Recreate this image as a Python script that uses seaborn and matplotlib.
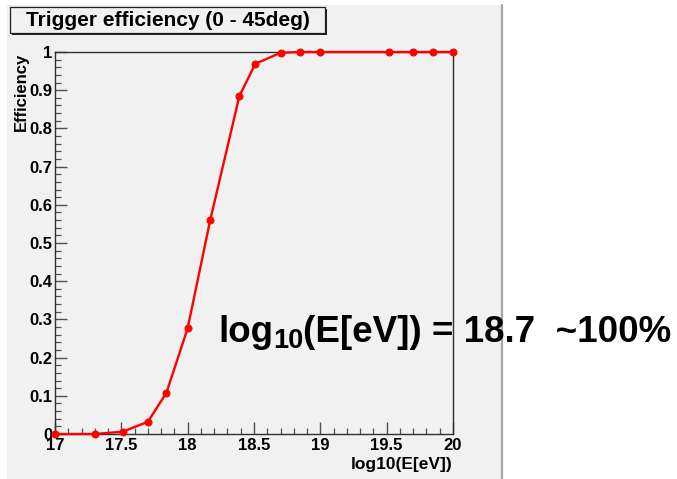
import matplotlib
matplotlib.use("Agg")
import matplotlib.pyplot as plt
from matplotlib.patches import Rectangle
from matplotlib.lines import Line2D
from matplotlib.ticker import MultipleLocator
import numpy as np
import pandas as pd
import seaborn as sns

# Trigger efficiency versus log10 of the primary energy
log_energy = [17.0, 17.3, 17.51, 17.7, 17.84, 18.0, 18.17, 18.39, 18.51,
              18.7, 18.85, 19.0, 19.52, 19.7, 19.85, 20.0]
efficiency = [0.0, 0.0, 0.006, 0.032, 0.108, 0.277, 0.560, 0.885, 0.969,
              0.998, 1.0, 1.0, 1.0, 1.0, 1.0, 1.0]

title_text = "Trigger efficiency (0 - 45deg)"
x_label = "log10(E[eV])"
y_label = "Efficiency"
x_tick_labels = ["17", "17.5", "18", "18.5", "19", "19.5", "20"]
y_tick_labels = ["0", "0.1", "0.2", "0.3", "0.4", "0.5", "0.6", "0.7", "0.8", "0.9", "1"]

sns.set_theme(style="ticks")
plt.rcParams["font.family"] = ["Liberation Sans", "DejaVu Sans"]
plt.rcParams["font.weight"] = "bold"
plt.rcParams["text.color"] = "black"

W, H = 677, 479
fig = plt.figure(figsize=(W / 100, H / 100), dpi=100)
fig.patch.set_facecolor("white")


def fx(px):
    return px / W


def fy(py):
    return 1 - py / H


# canvas background and its shadow edge
fig.add_artist(Rectangle((fx(7), 0), fx(495), 1 - 5 / H, transform=fig.transFigure,
                         facecolor="#f1f1f1", edgecolor="none", zorder=0))
fig.add_artist(Line2D([fx(502.5), fx(502.5)], [0, fy(5)], transform=fig.transFigure,
                      color="#a8a8a8", lw=1.6, zorder=1))

# title box with drop shadow
fig.add_artist(Rectangle((fx(12), fy(35)), fx(315), 26 / H, transform=fig.transFigure,
                         facecolor="#202020", edgecolor="none", zorder=2))
fig.add_artist(Rectangle((fx(10), fy(33)), fx(315), 26 / H, transform=fig.transFigure,
                         facecolor="#f1f1f1", edgecolor="#202020", lw=0.9, zorder=3))
fig.text(fx(167.5), fy(20.5), title_text, ha="center", va="center",
         fontsize=15, fontweight="bold", color="black", zorder=4)

ax = fig.add_axes([fx(55), fy(434), fx(398), (434 - 52) / H])
ax.set_facecolor("#f1f1f1")

df = pd.DataFrame({"logE": log_energy, "eff": efficiency})
sns.lineplot(data=df, x="logE", y="eff", ax=ax, color="red", lw=1.7,
             marker="o", markersize=5, markeredgecolor="red", sort=False,
             clip_on=False, zorder=5)

ax.set_xlim(17, 20)
ax.set_ylim(0, 1)
ax.set_xticks(np.arange(17, 20.01, 0.5))
ax.set_xticklabels(x_tick_labels)
ax.set_yticks(np.arange(0, 1.001, 0.1))
ax.set_yticklabels(y_tick_labels)
ax.xaxis.set_minor_locator(MultipleLocator(0.1))
ax.yaxis.set_minor_locator(MultipleLocator(0.02))

ax.tick_params(which="both", direction="in", colors="#505050", labelcolor="black",
               labelsize=12, top=False, right=False)
ax.tick_params(which="major", length=8.5, width=1.0)
ax.tick_params(which="minor", length=4.3, width=0.9)
ax.tick_params(axis="x", pad=3)
ax.tick_params(axis="y", pad=2)
for lab in ax.get_xticklabels() + ax.get_yticklabels():
    lab.set_fontweight("bold")
for s in ax.spines.values():
    s.set_color("#303030")
    s.set_linewidth(1.0)

ax.set_xlabel("")
ax.set_ylabel("")
fig.text(fx(453), fy(465), x_label, ha="right", va="center",
         fontsize=12.5, fontweight="bold", color="black")
fig.text(fx(21.5), fy(53), y_label, ha="center", va="top", rotation=90,
         fontsize=12, fontweight="bold", color="black")

# large annotation drawn piecewise so the subscript sits below the baseline
fig.canvas.draw()
renderer = fig.canvas.get_renderer()
x0, base = 218, 342
t1 = fig.text(fx(x0), fy(base), "log", ha="left", va="baseline",
              fontsize=26.5, fontweight="bold", color="black", zorder=6)
bb = t1.get_window_extent(renderer)
t2 = fig.text(bb.x1 / W, fy(base + 6), "10", ha="left", va="baseline",
              fontsize=19.5, fontweight="bold", color="black", zorder=6)
bb2 = t2.get_window_extent(renderer)
fig.text(bb2.x1 / W, fy(base), "(E[eV]) = 18.7  ~100%", ha="left", va="baseline",
         fontsize=26.5, fontweight="bold", color="black", zorder=6)

fig.savefig("out.png", dpi=100, facecolor="white")
